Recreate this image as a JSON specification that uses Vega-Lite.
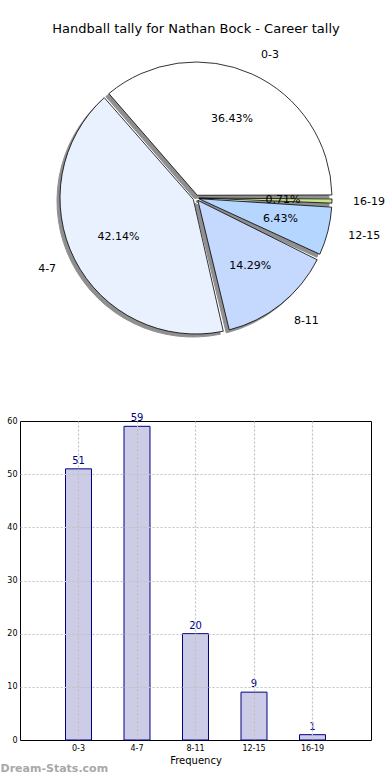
{
  "$schema": "https://vega.github.io/schema/vega-lite/v6.json",
  "padding": {"left": 0, "top": 23, "right": 0, "bottom": 0},
  "background": "white",
  "config": {"font": "DejaVu Sans", "view": {"stroke": null}},
  "datasets": {
    "tally": [
      {"label": "0-3", "count": 51, "k": 1, "pct": "36.43%"},
      {"label": "4-7", "count": 59, "k": 2, "pct": "42.14%"},
      {"label": "8-11", "count": 20, "k": 3, "pct": "14.29%"},
      {"label": "12-15", "count": 9, "k": 4, "pct": "6.43%"},
      {"label": "16-19", "count": 1, "k": 5, "pct": "0.71%"}
    ]
  },
  "title": {"text": "Dream-Stats.com", "orient": "bottom", "anchor": "start", "frame": "bounds", "fontSize": 11, "fontWeight": "bold", "color": "#a8a8a8", "offset": -3},
  "bounds": "flush",
  "spacing": 65,
  "vconcat": [
    {
      "width": 352,
      "height": 316,
      "title": {"text": "Handball tally for Nathan Bock - Career tally", "fontSize": 13, "fontWeight": "normal", "color": "black", "offset": 4, "anchor": "middle"},
      "data": {"name": "tally"},
      "encoding": {
        "theta": {"field": "count", "type": "quantitative", "stack": true, "scale": {"range": [1.5708, 7.854]}},
        "order": {"field": "k", "sort": "descending"}
      },
      "layer": [
        {"mark": {"type": "arc", "outerRadius": 136, "innerRadius": 3, "padAngle": 0.045, "xOffset": -3, "yOffset": 3, "fill": "#8f8f8f", "stroke": "#8f8f8f", "strokeWidth": 1},
         "encoding": {"opacity": {"condition": {"test": "datum.label === '16-19'", "value": 0}, "value": 1}}},
        {"mark": {"type": "arc", "outerRadius": 136, "innerRadius": 3, "padAngle": 0.014, "xOffset": -3, "yOffset": 3, "fill": "#8f8f8f", "stroke": "#8f8f8f", "strokeWidth": 1},
         "encoding": {"opacity": {"condition": {"test": "datum.label === '16-19'", "value": 1}, "value": 0}}},
        {"mark": {"type": "arc", "outerRadius": 136, "innerRadius": 3, "padAngle": 0.045, "stroke": "black", "strokeWidth": 0.8},
         "encoding": {
           "color": {"field": "label", "type": "nominal", "legend": null,
             "scale": {"domain": ["0-3", "4-7", "8-11", "12-15", "16-19"], "range": ["#ffffff", "#eaf1fe", "#c5d9ff", "#b4d6ff", "#c6e48a"]}},
           "opacity": {"condition": {"test": "datum.label === '16-19'", "value": 0}, "value": 1}}},
        {"mark": {"type": "arc", "outerRadius": 136, "innerRadius": 3, "padAngle": 0.014, "stroke": "black", "strokeWidth": 0.8},
         "encoding": {
           "color": {"field": "label", "type": "nominal", "legend": null,
             "scale": {"domain": ["0-3", "4-7", "8-11", "12-15", "16-19"], "range": ["#ffffff", "#eaf1fe", "#c5d9ff", "#b4d6ff", "#c6e48a"]}},
           "opacity": {"condition": {"test": "datum.label === '16-19'", "value": 1}, "value": 0}}},
        {"mark": {"type": "text", "radius": 87, "fontSize": 11, "color": "black", "baseline": "middle"},
         "encoding": {"text": {"field": "pct", "type": "nominal"}}},
        {"mark": {"type": "text", "radius": 157, "align": "left", "baseline": "middle", "fontSize": 11, "color": "black"},
         "encoding": {"text": {"condition": {"test": "datum.label === '4-7'", "value": ""}, "field": "label", "type": "nominal"}}},
        {"mark": {"type": "text", "radius": 157, "align": "right", "baseline": "middle", "fontSize": 11, "color": "black"},
         "encoding": {"text": {"condition": {"test": "datum.label !== '4-7'", "value": ""}, "field": "label", "type": "nominal"}}}
      ]
    },
    {
      "width": 351,
      "height": 319,
      "view": {"stroke": "black", "strokeWidth": 1},
      "data": {"name": "tally"},
      "encoding": {
        "x": {"field": "label", "type": "nominal", "sort": null,
          "scale": {"paddingInner": 0.556, "paddingOuter": 0.778},
          "axis": {"title": "Frequency", "titleFontSize": 10, "titleFontWeight": "normal", "titleColor": "black", "titlePadding": 3,
            "labelFontSize": 8, "labelColor": "black", "labelAngle": 0, "labelPadding": 4, "ticks": false, "domain": false,
            "grid": true, "gridColor": "#c0c0c0", "gridDash": [2, 2], "gridWidth": 1.2, "bandPosition": 0.5, "zindex": 1}},
        "y": {"field": "count", "type": "quantitative", "scale": {"domain": [0, 60], "nice": false},
          "axis": {"title": null, "values": [0, 10, 20, 30, 40, 50, 60], "labelFontSize": 8, "labelColor": "black", "labelPadding": 3,
            "ticks": false, "domain": false, "grid": true, "gridColor": "#c0c0c0", "gridDash": [2, 2], "gridWidth": 1.2,
            "gridOpacity": {"condition": {"test": "datum.value === 0 || datum.value === 60", "value": 0}, "value": 1},
            "minExtent": 19, "maxExtent": 19, "zindex": 1}}
      },
      "layer": [
        {"mark": {"type": "bar", "fill": "#000080", "fillOpacity": 0.2, "stroke": "#000080", "strokeWidth": 1}},
        {"mark": {"type": "text", "baseline": "bottom", "dy": -3, "fontSize": 10, "color": "#000080"},
         "encoding": {"text": {"field": "count", "type": "quantitative"}}}
      ]
    }
  ]
}
